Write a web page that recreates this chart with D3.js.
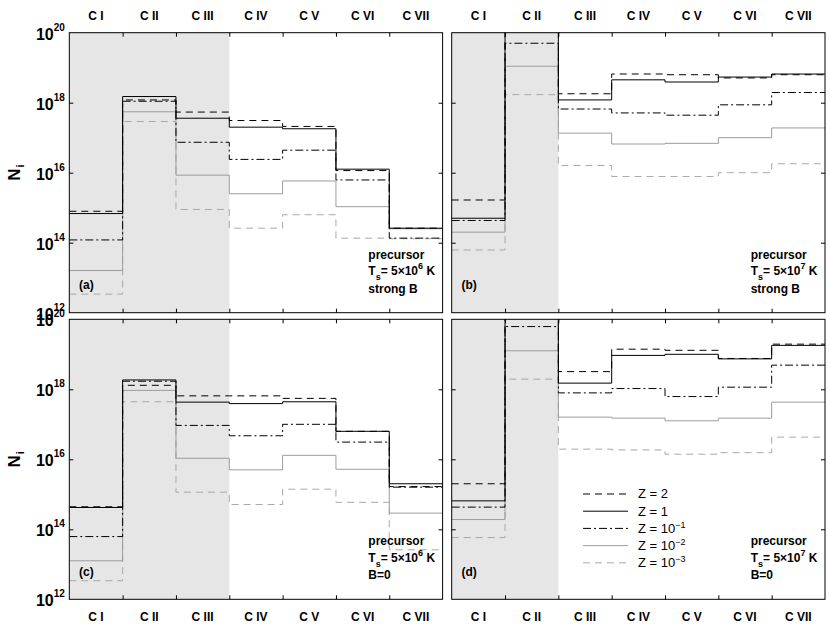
<!DOCTYPE html>
<html>
<head>
<meta charset="utf-8">
<script src="https://cdn.jsdelivr.net/npm/d3@7"></script>
<style>
  body { margin: 0; background: #fff; }
  text { font-family: "Liberation Sans", Arial, Helvetica, sans-serif; }
</style>
</head>
<body>
<svg id="chart" width="830" height="629"></svg>
<script>
// categories (ionisation stages) and the five metallicity series
const categories = ["C I", "C II", "C III", "C IV", "C V", "C VI", "C VII"];
const legendBase = ["Z = 2", "Z = 1", "Z = 10", "Z = 10", "Z = 10"];
const legendExp = ["", "", "\u22121", "\u22122", "\u22123"];
const yTickValues = [1e12, 1e14, 1e16, 1e18, 1e20];

// N_i per panel, rows: Z=2, Z=1, Z=0.1, Z=0.01, Z=0.001
const panelA = [
  [7.9e14, 1.2e18, 5.4e17, 3.1e17, 2.1e17, 1.15e16, 2.6e14],
  [6.8e14, 1.5e18, 3.6e17, 2.0e17, 1.8e17, 1.26e16, 2.6e14],
  [1.2e14, 1.1e18, 7.4e16, 2.4e16, 4.4e16, 6.2e15, 1.35e14],
  [1.6e13, 5.5e17, 8.5e15, 2.5e15, 5.8e15, 1.07e15, 2.5e14],
  [3.4e12, 2.9e17, 8.9e14, 2.6e14, 6.3e14, 1.35e14, 1.3e14]
];
const panelB = [
  [1.66e15, 2.5e20, 1.8e18, 6.6e18, 6.3e18, 5.1e18, 6.3e18],
  [5.0e14, 2.0e20, 1.2e18, 4.5e18, 3.9e18, 5.4e18, 6.6e18],
  [4.3e14, 5.0e19, 6.6e17, 5.1e17, 4.4e17, 8.7e17, 1.95e18],
  [2.0e14, 1.1e19, 1.35e17, 6.6e16, 6.9e16, 1.0e17, 1.9e17],
  [6.2e13, 1.7e18, 1.6e16, 7.8e15, 7.8e15, 1.0e16, 1.8e16]
];
const panelC = [
  [4.4e14, 1.3e18, 6.5e17, 6.5e17, 5.5e17, 6.3e16, 1.66e15],
  [4.2e14, 1.85e18, 4.3e17, 3.9e17, 4.4e17, 6.3e16, 2.0e15],
  [6.2e13, 1.7e18, 9.3e16, 4.7e16, 1.0e17, 3.1e16, 1.6e15],
  [1.26e13, 9.3e17, 1.07e16, 5.0e15, 1.3e16, 5.2e15, 2.9e14],
  [3.4e12, 4.4e17, 1.15e15, 5.1e14, 1.4e15, 5.9e14, 2.6e13]
];
const panelD = [
  [2.0e15, 2.5e20, 3.2e18, 1.4e19, 1.3e19, 7.6e18, 1.95e19],
  [6.5e14, 2.0e20, 1.5e18, 9.3e18, 1.0e19, 7.4e18, 1.8e19],
  [4.3e14, 6.2e19, 7.9e17, 1.05e18, 6.2e17, 1.15e18, 4.9e18],
  [1.9e14, 1.26e19, 1.6e17, 1.5e17, 1.26e17, 1.5e17, 4.3e17],
  [5.8e13, 1.95e18, 1.95e16, 1.85e16, 1.4e16, 1.55e16, 4.3e16]
];

const panels = [
  {tag: "(a)", data: panelA, col: 0, row: 0, shaded: 3, texp: "6", field: "strong B"},
  {tag: "(b)", data: panelB, col: 1, row: 0, shaded: 2, texp: "7", field: "strong B"},
  {tag: "(c)", data: panelC, col: 0, row: 1, shaded: 3, texp: "6", field: "B=0"},
  {tag: "(d)", data: panelD, col: 1, row: 1, shaded: 2, texp: "7", field: "B=0"}
];

const strokes = ["#000", "#000", "#000", "#9c9c9c", "#a8a8a8"];
const dashes = ["7,5", null, "8,3,2,3", null, "7,5"];

const colX = [69.3, 451.7], rowY = [32.7, 319.3];
const pw = 373.3, ph = 280;

const svg = d3.select("#chart");
const x = d3.scaleBand().domain(categories).range([0, pw]);
const xb = d3.scaleLinear().domain([0, categories.length]).range([0, pw]);
const y = d3.scaleLog().domain([1e12, 1e20]).range([ph, 0]);

const line = d3.line()
  .x(d => d[0])
  .y(d => y(d[1]))
  .curve(d3.curveStepAfter);

panels.forEach((p, pi) => {
  const g = svg.append("g")
    .attr("transform", `translate(${colX[p.col]},${rowY[p.row]})`);

  g.append("clipPath").attr("id", "clip" + pi)
    .append("rect").attr("width", pw).attr("height", ph);

  g.append("rect")
    .attr("width", xb(p.shaded)).attr("height", ph)
    .attr("fill", "#e6e6e6");

  const plot = g.append("g").attr("clip-path", `url(#clip${pi})`);
  // draw faint series first so black ones sit on top
  d3.range(p.data.length - 1, -1, -1).forEach(k => {
    const s = p.data[k];
    const pts = categories.map((c, i) => [x(c), s[i]]);
    pts.push([pw, s[s.length - 1]]);
    plot.append("path")
      .attr("d", line(pts))
      .attr("fill", "none")
      .attr("stroke", strokes[k])
      .attr("stroke-width", 1)
      .attr("stroke-dasharray", dashes[k]);
  });

  // inward ticks
  const inner = [1e14, 1e16, 1e18];
  g.append("g").call(d3.axisLeft(y).tickValues(inner).tickSize(-4).tickFormat(""));
  g.append("g").attr("transform", `translate(${pw},0)`)
    .call(d3.axisRight(y).tickValues(inner).tickSize(-4).tickFormat(""));
  g.append("g").call(d3.axisTop(xb).tickValues(d3.range(1, 7)).tickSize(-4).tickFormat(""));
  g.append("g").attr("transform", `translate(0,${ph})`)
    .call(d3.axisBottom(xb).tickValues(d3.range(1, 7)).tickSize(-4).tickFormat(""));
  g.selectAll(".domain").remove();

  g.append("rect")
    .attr("width", pw).attr("height", ph)
    .attr("fill", "none").attr("stroke", "#000").attr("stroke-width", 1);

  // y tick labels on the left column
  if (p.col === 0) {
    yTickValues.forEach(v => {
      const t = g.append("text")
        .attr("x", -4.5).attr("y", y(v) + 7)
        .attr("text-anchor", "end")
        .attr("font-weight", "bold");
      t.append("tspan").attr("font-size", 16).text("10");
      t.append("tspan").attr("font-size", 10).attr("dy", -9)
        .text(Math.round(Math.log10(v)));
    });
    const n = svg.append("text")
      .attr("transform", `translate(20,${rowY[p.row] + ph / 2}) rotate(-90)`)
      .attr("text-anchor", "middle")
      .attr("font-weight", "bold");
    n.append("tspan").attr("font-size", 17).text("N");
    n.append("tspan").attr("font-size", 11).attr("dy", 4).attr("dx", 1).text("i");
  }

  // category labels
  const labY = p.row === 0 ? -12.5 : ph + 21.5;
  g.selectAll(".cat").data(categories).join("text")
    .attr("x", d => x(d) + x.bandwidth() / 2)
    .attr("y", labY)
    .attr("text-anchor", "middle")
    .attr("font-size", 12).attr("font-weight", "bold")
    .text(d => d);

  // panel annotations
  g.append("text").attr("x", 9.7).attr("y", 256.6)
    .attr("font-size", 12).attr("font-weight", "bold").text(p.tag);

  const ann = g.append("g").attr("font-size", 12).attr("font-weight", "bold");
  ann.append("text").attr("x", 299).attr("y", 226).text("precursor");
  const tt = ann.append("text").attr("x", 299).attr("y", 242.6);
  tt.append("tspan").text("T");
  tt.append("tspan").attr("font-size", 9).attr("dy", 5).text("s");
  tt.append("tspan").attr("dy", -5).text("= 5\u00d710");
  tt.append("tspan").attr("font-size", 9).attr("dy", -6).text(p.texp);
  tt.append("tspan").attr("dy", 6).text(" K");
  ann.append("text").attr("x", 299).attr("y", 260).text(p.field);

  // legend in panel (d)
  if (p.tag === "(d)") {
    const lg = g.append("g");
    legendBase.forEach((b, k) => {
      const ly = 174.7 + k * 17.2;
      lg.append("line")
        .attr("x1", 131.3).attr("x2", 176.3)
        .attr("y1", ly).attr("y2", ly)
        .attr("stroke", strokes[k]).attr("stroke-width", 1)
        .attr("stroke-dasharray", dashes[k]);
      const t = lg.append("text").attr("x", 186.3).attr("y", ly + 4.5)
        .attr("font-size", 13);
      t.append("tspan").text(b);
      if (legendExp[k]) {
        t.append("tspan").attr("font-size", 9).attr("dy", -5).text(legendExp[k]);
      }
    });
  }
});
</script>
</body>
</html>
